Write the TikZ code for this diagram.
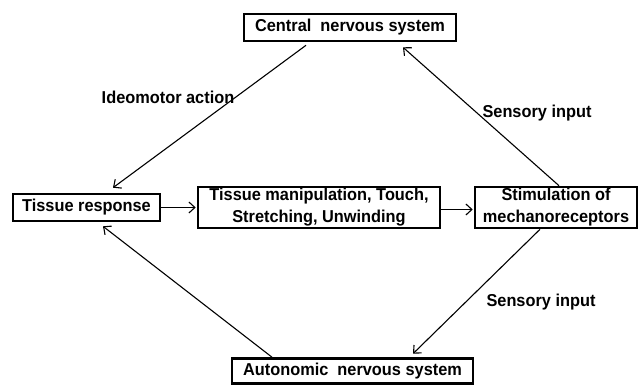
\documentclass[tikz,border=0pt]{standalone}
\usepackage{fontspec}
\setmainfont[FakeStretch=0.95]{Liberation Sans}
\usetikzlibrary{arrows.meta,calc}
\definecolor{LineClr}{rgb}{0,0,0}

\begin{document}
\begin{tikzpicture}[x=1pt,y=-1pt,
  box/.style={draw=LineClr,line width=2.6pt,inner sep=0pt,align=center,
    font=\fontsize{17.2}{22}\selectfont\bfseries},
  lbl/.style={inner sep=0pt,font=\fontsize{17.2}{22}\selectfont\bfseries},
  arr/.style={draw=LineClr,line width=1.1pt,-{Straight Barb[length=6pt,width=11pt,line width=1.1pt]}}]
\useasboundingbox (0,0) rectangle (640,385);

% The five boxes.
\node[box,minimum width=212,minimum height=27] (cns) at (350,27.5) {Central\ \ nervous system};
\node[box,minimum width=147,minimum height=27] (tissue) at (86.5,207.5) {Tissue response};
\node[box,minimum width=242,minimum height=41] (manip) at (319,207.5)
  {Tissue manipulation, Touch,\\Stretching, Unwinding};
\node[box,minimum width=162,minimum height=41] (stim) at (556,207.5)
  {Stimulation of\\mechanoreceptors};
\node[box,minimum width=241,minimum height=25] (ans) at (352.5,371) {Autonomic\ \ nervous system};

% Arrows along the middle row.
\draw[arr,shorten >=1pt] (tissue.east) -- (manip.west);
\draw[arr,shorten >=1pt] ([yshift=-2pt]manip.east) -- ([yshift=-2pt]stim.west);

% Arrows to and from the nervous systems.
\draw[arr] ([xshift=-44pt,yshift=-3pt]cns.south) -- ([xshift=26.5pt,yshift=5pt]tissue.north);
\draw[arr] ([xshift=3pt]stim.north) -- ([xshift=53pt,yshift=-5pt]cns.south);
\draw[arr] ([xshift=-16pt]stim.south) -- ([xshift=60.5pt,yshift=3.5pt]ans.north);
\draw[arr] ([xshift=-80.5pt]ans.north) -- ([xshift=16.5pt,yshift=-4pt]tissue.south);

% Labels of the arrows.
\node[lbl] (ideo) at (168,97) {Ideomotor action};
\node[lbl] (sensup) at (537,113) {Sensory input};
\node[lbl] (sensdown) at (541,302) {Sensory input};

\end{tikzpicture}
\end{document}
